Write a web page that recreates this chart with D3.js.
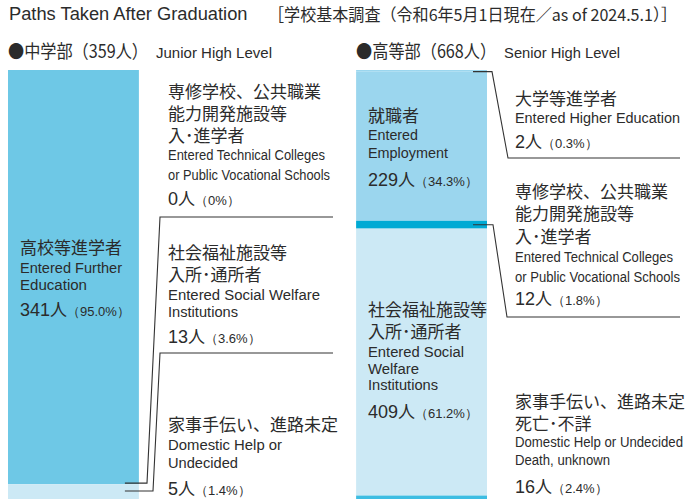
<!DOCTYPE html>
<html>
<head>
<meta charset="utf-8">
<script src="https://cdn.jsdelivr.net/npm/d3@7"></script>
<style>
  body { margin: 0; background: #fff; }
  svg { display: block; }
  .jp { font-family: "Noto Sans CJK JP", sans-serif; }
  .en { font-family: "Liberation Sans", Arial, sans-serif; }
</style>
</head>
<body>
<script>
// values
var groups = ["junior", "senior"];
var groupTitles = ["●中学部（359人）", "●高等部（668人）"];
var groupSubtitles = ["Junior High Level", "Senior High Level"];

var juniorCats = ["高校等進学者", "専修学校等", "社会福祉施設等", "家事手伝い等"];
var juniorValues = [341, 0, 13, 5];
var juniorPct = ["95.0", "0", "3.6", "1.4"];
var juniorColors = ["#6ec8e6", "#00aad4", "#cce9f5", "#9fd7ee"];

var seniorCats = ["大学等進学者", "就職者", "専修学校等", "社会福祉施設等", "家事手伝い等"];
var seniorValues = [2, 229, 12, 409, 16];
var seniorPct = ["0.3", "34.3", "1.8", "61.2", "2.4"];
var seniorColors = ["#9bd6ee", "#9bd6ee", "#00aad4", "#cce9f5", "#3dbde2"];

var W = 697, H = 499;
var barTop = 70, barH = 436;
var ink = "#2b2b2b";

var svg = d3.select("body").append("svg").attr("width", W).attr("height", H);

var x = d3.scaleBand().domain(groups).range([8, 487]).paddingInner(0.624).paddingOuter(0);

function stack(values) {
  var acc = 0;
  return values.map(function(v) { var s = acc; acc += v; return {y0: s, y1: acc, v: v}; });
}

function drawBar(key, values, colors) {
  var total = d3.sum(values);
  var y = d3.scaleLinear().domain([0, total]).range([barTop, barTop + barH]);
  var segs = stack(values);
  svg.append("g").selectAll("rect")
    .data(segs)
    .enter().append("rect")
      .attr("x", x(key))
      .attr("width", x.bandwidth())
      .attr("y", function(d) { return y(d.y0); })
      .attr("height", function(d) { return y(d.y1) - y(d.y0); })
      .attr("fill", function(d, i) { return colors[i]; });
  return {y: y, segs: segs};
}

var jb = drawBar("junior", juniorValues, juniorColors);
var sb = drawBar("senior", seniorValues, seniorColors);

// title
svg.append("text").attr("class", "en").attr("x", 9).attr("y", 20)
  .attr("font-size", 18.3).attr("fill", ink).text("Paths Taken After Graduation");
svg.append("text").attr("class", "jp").attr("x", 268).attr("y", 21)
  .attr("font-size", 16.5).attr("fill", ink)
  .attr("textLength", 409).attr("lengthAdjust", "spacingAndGlyphs")
  .text("［学校基本調査（令和6年5月1日現在／as of 2024.5.1）］");

// group headings
groups.forEach(function(g, i) {
  svg.append("text").attr("class", "jp").attr("x", x(g)).attr("y", 58)
    .attr("font-size", 18).attr("fill", ink)
    .attr("textLength", 140).attr("lengthAdjust", "spacingAndGlyphs")
    .text(groupTitles[i]);
  svg.append("text").attr("class", "en").attr("x", x(g) + 148).attr("y", 58)
    .attr("font-size", 14).attr("fill", ink)
    .attr("textLength", 116).attr("lengthAdjust", "spacingAndGlyphs")
    .text(groupSubtitles[i]);
});

// label block: lines of [kind, text, baseline, width]
function label(x0, lines) {
  lines.forEach(function(l) {
    if (l[0] === "jp") {
      svg.append("text").attr("class", "jp").attr("x", x0).attr("y", l[2])
        .attr("font-size", 17).attr("fill", ink).text(l[1]);
    } else if (l[0] === "en") {
      svg.append("text").attr("class", "en").attr("x", x0).attr("y", l[2])
        .attr("font-size", 14).attr("fill", ink)
        .attr("textLength", l[3]).attr("lengthAdjust", "spacingAndGlyphs")
        .text(l[1]);
    } else {
      var t = svg.append("text").attr("x", x0).attr("y", l[2]).attr("fill", ink);
      t.append("tspan").attr("class", "en").attr("font-size", 18).text(l[1].n);
      t.append("tspan").attr("class", "jp").attr("font-size", 17).text("人");
      t.append("tspan").attr("class", "en").attr("font-size", 13).text("（" + l[1].p + "%）");
    }
  });
}
function num(v, p) { return {n: v, p: p}; }

// inside bars
label(20, [
  ["jp", juniorCats[0], 254],
  ["en", "Entered Further", 273, 102],
  ["en", "Education", 290, 67],
  ["num", num(juniorValues[0], juniorPct[0]), 316]
]);
label(368, [
  ["jp", seniorCats[1], 122],
  ["en", "Entered", 140, 50],
  ["en", "Employment", 158, 80],
  ["num", num(seniorValues[1], seniorPct[1]), 186]
]);
label(368, [
  ["jp", "社会福祉施設等", 316],
  ["jp", "入所･通所者", 338],
  ["en", "Entered Social", 357, 96],
  ["en", "Welfare", 374, 51],
  ["en", "Institutions", 390, 70],
  ["num", num(seniorValues[3], seniorPct[3]), 418]
]);

// junior side labels
label(168, [
  ["jp", "専修学校、公共職業", 98],
  ["jp", "能力開発施設等", 120],
  ["jp", "入･進学者", 142],
  ["en", "Entered Technical Colleges", 160, 157],
  ["en", "or Public Vocational Schools", 180, 162],
  ["num", num(juniorValues[1], juniorPct[1]), 205],
  ["jp", "社会福祉施設等", 259],
  ["jp", "入所･通所者", 281],
  ["en", "Entered Social Welfare", 300, 152],
  ["en", "Institutions", 317, 70],
  ["num", num(juniorValues[2], juniorPct[2]), 343],
  ["jp", "家事手伝い、進路未定", 431],
  ["en", "Domestic Help or", 450, 114],
  ["en", "Undecided", 468, 70],
  ["num", num(juniorValues[3], juniorPct[3]), 495]
]);

// senior side labels
label(515, [
  ["jp", seniorCats[0], 105],
  ["en", "Entered Higher Education", 123, 165],
  ["num", num(seniorValues[0], seniorPct[0]), 148],
  ["jp", "専修学校、公共職業", 198],
  ["jp", "能力開発施設等", 220],
  ["jp", "入･進学者", 243],
  ["en", "Entered Technical Colleges", 262, 158],
  ["en", "or Public Vocational Schools", 282, 165],
  ["num", num(seniorValues[2], seniorPct[2]), 305],
  ["jp", "家事手伝い、進路未定", 408],
  ["jp", "死亡･不詳", 430],
  ["en", "Domestic Help or Undecided", 447, 168],
  ["en", "Death, unknown", 465, 95],
  ["num", num(seniorValues[4], seniorPct[4]), 493]
]);

// leader lines, pointing at the segments through the scales
function mid(b, i) { return (b.y(b.segs[i].y0) + b.y(b.segs[i].y1)) / 2; }
var jx = x("junior") + x.bandwidth(), sx = x("senior") + x.bandwidth();
var leaders = [
  [[333, 217], [160, 217], [147, jb.y(jb.segs[1].y0) - 1], [jx - 14, jb.y(jb.segs[1].y0) - 1]],
  [[333, 353], [160, 353], [153, mid(jb, 2) - 1], [jx - 14, mid(jb, 2) - 1]],
  [[680, 158], [508, 158], [492, mid(sb, 0) + 1], [sx - 14, mid(sb, 0) + 1]],
  [[680, 317], [507, 317], [493, mid(sb, 2)], [sx - 14, mid(sb, 2)]]
];
svg.append("g").selectAll("path")
  .data(leaders)
  .enter().append("path")
    .attr("d", d3.line())
    .attr("fill", "none")
    .attr("stroke", "#333")
    .attr("stroke-width", 1.1);
</script>
</body>
</html>
